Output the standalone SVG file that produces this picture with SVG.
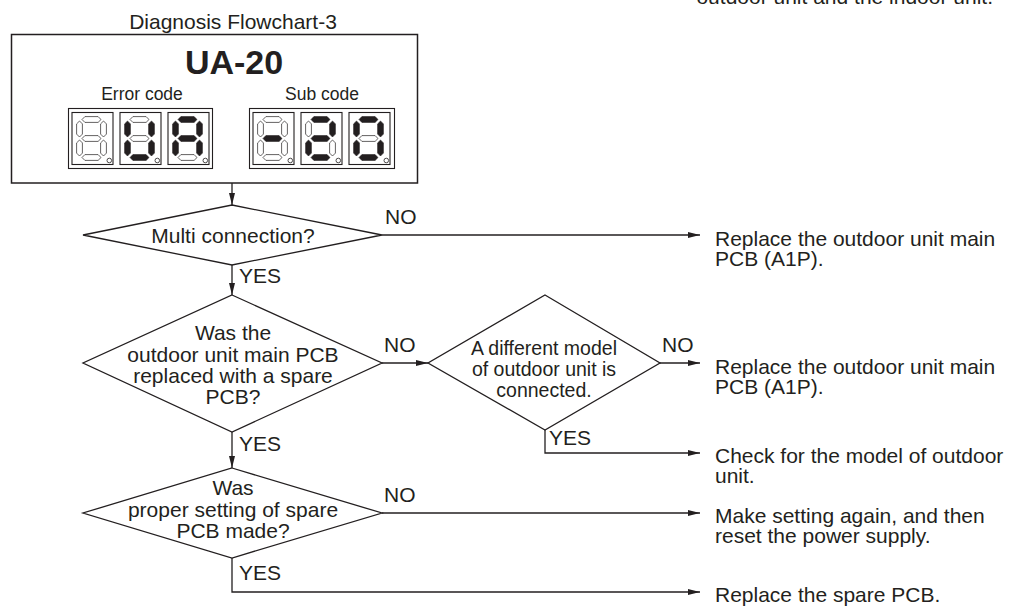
<svg xmlns="http://www.w3.org/2000/svg" width="1016" height="607" viewBox="0 0 1016 607">
<style>
text{font-family:"Liberation Sans",Arial,Helvetica,sans-serif;fill:#231f20}
.t{font-size:21px}
.t3{font-size:19.5px}
.c{text-anchor:middle}
.lbl{font-size:21px}
.small{font-size:17.5px}
.big{font-size:34px;font-weight:bold}
.shape{fill:#fff;stroke:#231f20;stroke-width:1.3}
.box{fill:#fff;stroke:#231f20;stroke-width:1.5}
.dbox{fill:#fff;stroke:#231f20;stroke-width:1.1}
.conn{fill:none;stroke:#231f20;stroke-width:1.3}
.on{fill:#231f20;stroke:#231f20;stroke-width:0.6}
.off{fill:#fff;stroke:#231f20;stroke-width:0.7}
.dp{fill:#fff;stroke:#231f20;stroke-width:0.8}
</style>
<defs>
<marker id="arr" markerUnits="userSpaceOnUse" markerWidth="13" markerHeight="7" refX="12" refY="3" orient="auto">
<path d="M0,0 L12,3 L0,6 z" fill="#231f20"/>
</marker>
<polygon id="h" points="-9.5,0 -6.6,-2.9 6.6,-2.9 9.5,0 6.6,2.9 -6.6,2.9"/>
<polygon id="v" points="0,-8 2.9,-5.1 2.9,5.1 0,8 -2.9,5.1 -2.9,-5.1"/>
</defs>
<rect width="1016" height="607" fill="#fff"/>

<text class="t" x="993" y="3.5" text-anchor="end">outdoor unit and the indoor unit.</text>
<text class="t c" x="233" y="29">Diagnosis Flowchart-3</text>

<g id="code-box">
<rect class="box" x="11.5" y="34.5" width="406" height="148.5"/>
<text class="big c" x="234" y="74">UA-20</text>
<text class="small c" x="142" y="99.5">Error code</text>
<text class="small c" x="322" y="99.5">Sub code</text>
<rect class="dbox" x="68.5" y="108.5" width="144" height="60"/>
<rect class="dbox" x="249.5" y="108.5" width="145" height="60"/>
<g transform="translate(72,112.5)">
<rect class="dbox" width="41" height="52"/>
<use href="#h" x="19.5" y="7" class="off"/><use href="#v" x="31.5" y="16.5" class="off"/><use href="#v" x="31.5" y="35.5" class="off"/><use href="#h" x="19.5" y="45" class="off"/><use href="#v" x="7.5" y="35.5" class="off"/><use href="#v" x="7.5" y="16.5" class="off"/><use href="#h" x="19.5" y="26" class="off"/>
<circle class="dp" cx="37.3" cy="48" r="2.3"/>
</g>
<g transform="translate(120,112.5)">
<rect class="dbox" width="41" height="52"/>
<use href="#h" x="19.5" y="7" class="off"/><use href="#v" x="31.5" y="16.5" class="on"/><use href="#v" x="31.5" y="35.5" class="on"/><use href="#h" x="19.5" y="45" class="on"/><use href="#v" x="7.5" y="35.5" class="on"/><use href="#v" x="7.5" y="16.5" class="on"/><use href="#h" x="19.5" y="26" class="off"/>
<circle class="dp" cx="37.3" cy="48" r="2.3"/>
</g>
<g transform="translate(168,112.5)">
<rect class="dbox" width="41" height="52"/>
<use href="#h" x="19.5" y="7" class="on"/><use href="#v" x="31.5" y="16.5" class="on"/><use href="#v" x="31.5" y="35.5" class="on"/><use href="#h" x="19.5" y="45" class="off"/><use href="#v" x="7.5" y="35.5" class="on"/><use href="#v" x="7.5" y="16.5" class="on"/><use href="#h" x="19.5" y="26" class="on"/>
<circle class="dp" cx="37.3" cy="48" r="2.3"/>
</g>
<g transform="translate(253,112.5)">
<rect class="dbox" width="41" height="52"/>
<use href="#h" x="19.5" y="7" class="off"/><use href="#v" x="31.5" y="16.5" class="off"/><use href="#v" x="31.5" y="35.5" class="off"/><use href="#h" x="19.5" y="45" class="off"/><use href="#v" x="7.5" y="35.5" class="off"/><use href="#v" x="7.5" y="16.5" class="off"/><use href="#h" x="19.5" y="26" class="on"/>
<circle class="dp" cx="37.3" cy="48" r="2.3"/>
</g>
<g transform="translate(301,112.5)">
<rect class="dbox" width="41" height="52"/>
<use href="#h" x="19.5" y="7" class="on"/><use href="#v" x="31.5" y="16.5" class="on"/><use href="#v" x="31.5" y="35.5" class="off"/><use href="#h" x="19.5" y="45" class="on"/><use href="#v" x="7.5" y="35.5" class="on"/><use href="#v" x="7.5" y="16.5" class="off"/><use href="#h" x="19.5" y="26" class="on"/>
<circle class="dp" cx="37.3" cy="48" r="2.3"/>
</g>
<g transform="translate(349,112.5)">
<rect class="dbox" width="41" height="52"/>
<use href="#h" x="19.5" y="7" class="on"/><use href="#v" x="31.5" y="16.5" class="on"/><use href="#v" x="31.5" y="35.5" class="on"/><use href="#h" x="19.5" y="45" class="on"/><use href="#v" x="7.5" y="35.5" class="on"/><use href="#v" x="7.5" y="16.5" class="on"/><use href="#h" x="19.5" y="26" class="off"/>
<circle class="dp" cx="37.3" cy="48" r="2.3"/>
</g>
</g>

<g id="connectors">
<path class="conn" d="M232,183 V205" marker-end="url(#arr)"/>
<path class="conn" d="M382,235 H700" marker-end="url(#arr)"/>
<path class="conn" d="M232,265 V295" marker-end="url(#arr)"/>
<path class="conn" d="M382,363 H428" marker-end="url(#arr)"/>
<path class="conn" d="M660,363 H700" marker-end="url(#arr)"/>
<path class="conn" d="M545,430 V453 H700" marker-end="url(#arr)"/>
<path class="conn" d="M232,432 V468" marker-end="url(#arr)"/>
<path class="conn" d="M382,513 H700" marker-end="url(#arr)"/>
<path class="conn" d="M232,558 V592 H700" marker-end="url(#arr)"/>
<text class="lbl" x="385" y="224">NO</text>
<text class="lbl" x="239" y="283">YES</text>
<text class="lbl" x="384" y="352">NO</text>
<text class="lbl" x="662" y="352">NO</text>
<text class="lbl" x="239" y="451">YES</text>
<text class="lbl" x="549" y="445">YES</text>
<text class="lbl" x="384" y="502">NO</text>
<text class="lbl" x="239" y="580">YES</text>
</g>

<g id="d1">
<polygon class="shape" points="232,205 382,235 232,265 83,235"/>
<text class="t c" x="233" y="243">Multi connection?</text>
</g>
<g id="d2">
<polygon class="shape" points="232,295 382,363 232,432 83,363"/>
<text class="t c" x="233" y="340">Was the</text>
<text class="t c" x="233" y="361.5">outdoor unit main PCB</text>
<text class="t c" x="233" y="383">replaced with a spare</text>
<text class="t c" x="233" y="404">PCB?</text>
</g>
<g id="d3">
<polygon class="shape" points="545,295 660,363 545,430 428,363"/>
<text class="t3 c" x="544" y="355">A different model</text>
<text class="t3 c" x="544" y="376">of outdoor unit is</text>
<text class="t3 c" x="544" y="397">connected.</text>
</g>
<g id="d4">
<polygon class="shape" points="232,468 382,513 232,558 83,513"/>
<text class="t c" x="233" y="495">Was</text>
<text class="t c" x="233" y="516.5">proper setting of spare</text>
<text class="t c" x="233" y="538">PCB made?</text>
</g>

<g id="r1">
<text class="t" x="715" y="245.5">Replace the outdoor unit main</text>
<text class="t" x="715" y="265.5">PCB (A1P).</text>
</g>
<g id="r2">
<text class="t" x="715" y="373.5">Replace the outdoor unit main</text>
<text class="t" x="715" y="393.5">PCB (A1P).</text>
</g>
<g id="r3">
<text class="t" x="715" y="463">Check for the model of outdoor</text>
<text class="t" x="715" y="483">unit.</text>
</g>
<g id="r4">
<text class="t" x="715" y="523">Make setting again, and then</text>
<text class="t" x="715" y="543">reset the power supply.</text>
</g>
<g id="r5">
<text class="t" x="715" y="602">Replace the spare PCB.</text>
</g>
</svg>
